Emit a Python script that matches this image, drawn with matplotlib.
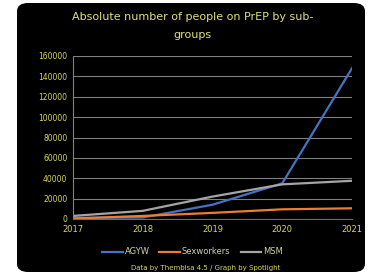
import matplotlib
matplotlib.use("Agg")
import matplotlib.pyplot as plt
from matplotlib.patches import FancyBboxPatch

years = [2017, 2018, 2019, 2020, 2021]
agyw = [1000, 1500, 14000, 35000, 148000]
sexworkers = [500, 3000, 6000, 9500, 10500]
msm = [3000, 8000, 22000, 34000, 37500]
yticks = [0, 20000, 40000, 60000, 80000, 100000, 120000, 140000, 160000]

W, H = 370, 275
fig = plt.figure(figsize=(W/100, H/100), dpi=100)
fig.patch.set_facecolor("white")
bg = FancyBboxPatch((17/W, 3/H), (365-17)/W, (272-3)/H,
                    boxstyle="round,pad=0,rounding_size=0.03",
                    transform=fig.transFigure, facecolor="black",
                    edgecolor="none", zorder=-10)
fig.patches.append(bg)

ax = fig.add_axes([73/W, 1-219/H, (352-73)/W, (219-56)/H])
ax.set_facecolor("black")
ax.plot(years, agyw, color="#4472c4", lw=1.6, label="AGYW")
ax.plot(years, sexworkers, color="#ed7d31", lw=1.6, label="Sexworkers")
ax.plot(years, msm, color="#a5a5a5", lw=1.6, label="MSM")
ax.set_xlim(2017, 2021)
ax.set_ylim(0, 160000)
ax.set_yticks(yticks)
ax.set_yticklabels([str(v) for v in yticks])
ax.set_xticks(years)
ax.grid(axis="y", color="#7f7f7f", lw=0.8)
ax.set_axisbelow(True)
for s in ["top", "right"]:
    ax.spines[s].set_visible(False)
ax.spines["left"].set_color("#8a8a3a")
ax.spines["bottom"].set_color("#6b7a2a")
ax.tick_params(length=0, labelsize=6, colors="#d8d860", pad=4)
for t in ax.get_yticklabels():
    t.set_fontsize(5.5)

fig.text(0.52, 1-17/H, "Absolute number of people on PrEP by sub-", ha="center",
         va="center", color="#e0e07a", fontsize=8)
fig.text(0.52, 1-35/H, "groups", ha="center", va="center", color="#e0e07a", fontsize=8)

leg = fig.legend(loc="center", bbox_to_anchor=(0.52, 1-252/H), ncol=3,
                 frameon=False, fontsize=6, handlelength=2.5,
                 columnspacing=1.2, handletextpad=0.2)
for t in leg.get_texts():
    t.set_color("#d0d0b0")

fig.text(0.557, 1-268/H, "Data by Thembisa 4.5 / Graph by Spotlight", ha="center",
         va="center", color="#d8d860", fontsize=5)

fig.savefig("out.png", dpi=100, facecolor="white")
